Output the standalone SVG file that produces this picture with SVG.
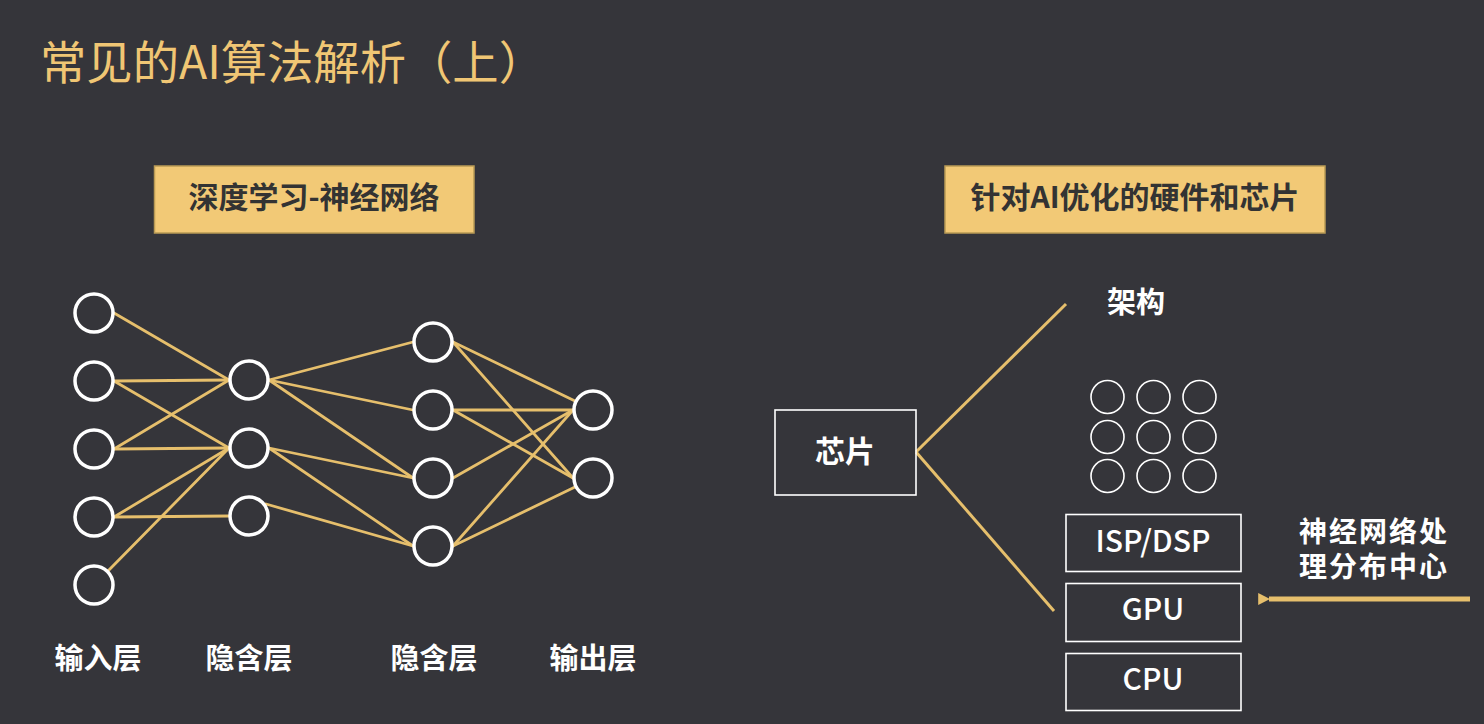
<svg xmlns="http://www.w3.org/2000/svg" width="1484" height="724" viewBox="0 0 1484 724">
<defs>
<style>
.bg{fill:#35353a}
.n{fill:#35353a;stroke:#ffffff;stroke-width:3.5}
.g{fill:none;stroke:#ffffff;stroke-width:1.6}
.e{stroke:#E6BF6C;stroke-width:2.8;fill:none;stroke-linecap:round}
.br{stroke:#E6BF6C;stroke-width:3;fill:none}
.box{fill:none;stroke:#ffffff;stroke-width:1.6}
.tag{fill:#F2C976;stroke:#B99A55;stroke-width:1.5}
.lbl{font-family:"Noto Sans CJK SC","Noto Sans",sans-serif;font-weight:700;fill:#ffffff}
.tt{font-family:"Noto Sans CJK SC","Noto Sans",sans-serif;font-weight:700;fill:#333333;font-size:30px;text-anchor:middle}
.hw{font-family:"Noto Sans CJK SC","Noto Sans",sans-serif;font-weight:500;fill:#ffffff;font-size:30px;text-anchor:middle}
</style>
<marker id="ah" viewBox="0 0 10 10" refX="1" refY="5" markerWidth="2.4" markerHeight="2.6" orient="auto-start-reverse" markerUnits="strokeWidth">
<path d="M0,5 L10,0 L10,10 Z" fill="#E6BF6C"/>
</marker>
</defs>
<rect class="bg" x="0" y="0" width="1484" height="724"/>

<text x="40" y="79" font-family="'Noto Sans CJK SC','Noto Sans',sans-serif" font-size="46" fill="#F0C674" textLength="505" lengthAdjust="spacingAndGlyphs">常见的AI算法解析（上）</text>

<g id="tag-left">
<rect class="tag" x="154.5" y="166" width="319.5" height="67"/>
<text class="tt" x="314" y="208">深度学习-神经网络</text>
</g>
<g id="tag-right">
<rect class="tag" x="945" y="166" width="380" height="67"/>
<text class="tt" x="1135" y="208">针对AI优化的硬件和芯片</text>
</g>

<g id="connectors">
<line class="e" x1="114" y1="313" x2="229" y2="380"/>
<line class="e" x1="114" y1="381" x2="229" y2="380"/>
<line class="e" x1="114" y1="381" x2="229" y2="448"/>
<line class="e" x1="114" y1="449" x2="229" y2="380"/>
<line class="e" x1="114" y1="449" x2="229" y2="448"/>
<line class="e" x1="114" y1="517" x2="229" y2="448"/>
<line class="e" x1="114" y1="517" x2="229" y2="516"/>
<line class="e" x1="108" y1="571" x2="229" y2="448"/>

<line class="e" x1="269" y1="380" x2="413" y2="342"/>
<line class="e" x1="269" y1="380" x2="413" y2="410"/>
<line class="e" x1="269" y1="380" x2="413" y2="478"/>
<line class="e" x1="269" y1="448" x2="413" y2="478"/>
<line class="e" x1="269" y1="448" x2="413" y2="546"/>
<line class="e" x1="266" y1="504" x2="413" y2="546"/>

<line class="e" x1="453" y1="342" x2="575" y2="401"/>
<line class="e" x1="453" y1="342" x2="573" y2="478"/>
<line class="e" x1="453" y1="410" x2="573" y2="410"/>
<line class="e" x1="453" y1="410" x2="573" y2="478"/>
<line class="e" x1="453" y1="478" x2="573" y2="410"/>
<line class="e" x1="453" y1="546" x2="573" y2="410"/>
<line class="e" x1="453" y1="546" x2="575" y2="487"/>

<line class="br" x1="916" y1="452" x2="1066" y2="304"/>
<line class="br" x1="916" y1="452" x2="1054" y2="611"/>

<line x1="1470" y1="599" x2="1269" y2="599" stroke="#E6BF6C" stroke-width="5" marker-end="url(#ah)"/>
</g>

<g id="input-layer">
<circle class="n" cx="94" cy="313" r="19"/>
<circle class="n" cx="94" cy="381" r="19"/>
<circle class="n" cx="94" cy="449" r="19"/>
<circle class="n" cx="94" cy="517" r="19"/>
<circle class="n" cx="94" cy="585" r="19"/>
<text class="lbl" x="98" y="669" font-size="29" text-anchor="middle">输入层</text>
</g>
<g id="hidden-layer-1">
<circle class="n" cx="249" cy="380" r="19"/>
<circle class="n" cx="249" cy="448" r="19"/>
<circle class="n" cx="249" cy="516" r="19"/>
<text class="lbl" x="249" y="669" font-size="29" text-anchor="middle">隐含层</text>
</g>
<g id="hidden-layer-2">
<circle class="n" cx="433" cy="342" r="19"/>
<circle class="n" cx="433" cy="410" r="19"/>
<circle class="n" cx="433" cy="478" r="19"/>
<circle class="n" cx="433" cy="546" r="19"/>
<text class="lbl" x="434" y="669" font-size="29" text-anchor="middle">隐含层</text>
</g>
<g id="output-layer">
<circle class="n" cx="593" cy="410" r="19"/>
<circle class="n" cx="593" cy="478" r="19"/>
<text class="lbl" x="593" y="669" font-size="29" text-anchor="middle">输出层</text>
</g>

<g id="chip">
<rect class="box" x="775" y="410" width="141" height="85"/>
<text class="lbl" x="845" y="462" font-size="30" text-anchor="middle">芯片</text>
</g>
<g id="arch">
<text class="lbl" x="1136" y="313" font-size="29" text-anchor="middle">架构</text>
</g>
<g id="grid">
<circle class="g" cx="1107.5" cy="397" r="16.5"/>
<circle class="g" cx="1153.5" cy="397" r="16.5"/>
<circle class="g" cx="1199.5" cy="397" r="16.5"/>
<circle class="g" cx="1107.5" cy="437" r="16.5"/>
<circle class="g" cx="1153.5" cy="437" r="16.5"/>
<circle class="g" cx="1199.5" cy="437" r="16.5"/>
<circle class="g" cx="1107.5" cy="476" r="16.5"/>
<circle class="g" cx="1153.5" cy="476" r="16.5"/>
<circle class="g" cx="1199.5" cy="476" r="16.5"/>
</g>
<g id="isp-dsp">
<rect class="box" x="1066" y="514.5" width="175" height="57"/>
<text class="hw" x="1153" y="552">ISP/DSP</text>
</g>
<g id="gpu">
<rect class="box" x="1066" y="583.5" width="175" height="58"/>
<text class="hw" x="1153" y="620">GPU</text>
</g>
<g id="cpu">
<rect class="box" x="1066" y="653.5" width="175" height="57"/>
<text class="hw" x="1153" y="690">CPU</text>
</g>
<g id="npu-label">
<text class="lbl" font-size="28" letter-spacing="2" text-anchor="middle"><tspan x="1374" y="542">神经网络处</tspan><tspan x="1374" y="577">理分布中心</tspan></text>
</g>
</svg>
